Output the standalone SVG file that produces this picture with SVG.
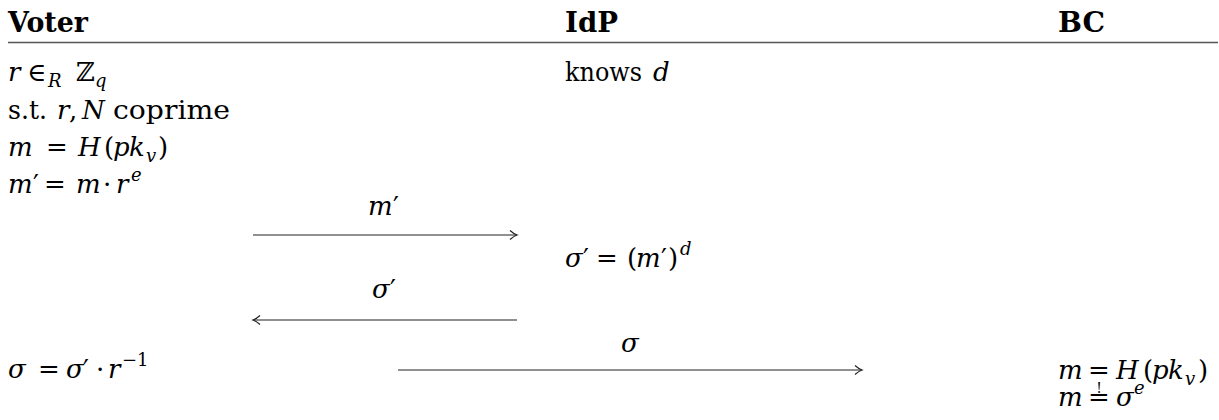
<svg xmlns="http://www.w3.org/2000/svg" width="1219" height="420" viewBox="0 0 1219 420" font-family="DejaVu Serif, Liberation Serif, serif">
<style>
text{font-family:"DejaVu Serif","Liberation Serif",serif}
.t{font-size:26px;fill:#000}
.i{font-style:italic}
.b{font-weight:bold;font-size:27px}
.s{font-size:18px}
.x{font-size:14px}
.arr{stroke:#222;stroke-width:1.2;fill:none}
.rule{stroke:#555;stroke-width:1.4}
</style>
<defs>
<marker id="head" markerUnits="userSpaceOnUse" viewBox="-9 -6 10 12" refX="0" refY="0" markerWidth="10" markerHeight="12" orient="auto-start-reverse" overflow="visible">
<path d="M-7,-4.5 Q-3,-1 0,0 Q-3,1 -7,4.5" fill="none" stroke="#222" stroke-width="1.2"/>
</marker>
</defs>
<rect width="1219" height="420" fill="#fff"/>
<g id="header">
<text class="t b" x="8" y="32" textLength="80" lengthAdjust="spacingAndGlyphs">Voter</text>
<text class="t b" x="565" y="32" textLength="53" lengthAdjust="spacingAndGlyphs">IdP</text>
<text class="t b" x="1058" y="32" textLength="47" lengthAdjust="spacingAndGlyphs">BC</text>
<line class="rule" x1="8" y1="42.5" x2="1218" y2="42.5"/>
</g>
<g id="voter">
<text class="t" y="81"><tspan class="i" x="8">r</tspan><tspan x="27">∈</tspan><tspan class="i s" x="48" y="87">R</tspan><tspan x="76" y="81">ℤ</tspan><tspan class="i s" x="95" y="87">q</tspan></text>
<text class="t" y="119"><tspan x="8" textLength="39" lengthAdjust="spacingAndGlyphs">s.t.</tspan><tspan class="i" x="57">r</tspan><tspan x="69">,</tspan><tspan class="i" x="82">N</tspan><tspan x="113" textLength="117" lengthAdjust="spacingAndGlyphs">coprime</tspan></text>
<text class="t" y="156"><tspan class="i" x="8">m</tspan><tspan x="46">=</tspan><tspan class="i" x="78">H</tspan><tspan x="104">(</tspan><tspan class="i" x="113">p</tspan><tspan class="i" x="129">k</tspan><tspan class="i s" x="146" y="162">v</tspan><tspan x="158" y="156">)</tspan></text>
<text class="t" y="193"><tspan class="i" x="8">m</tspan><tspan x="33">′</tspan><tspan x="44">=</tspan><tspan class="i" x="76">m</tspan><tspan x="103">·</tspan><tspan class="i" x="116">r</tspan><tspan class="i s" x="131" y="181">e</tspan></text>
<text class="t" y="378"><tspan class="i" x="8">σ</tspan><tspan x="38">=</tspan><tspan class="i" x="66">σ</tspan><tspan x="83">′</tspan><tspan x="96">·</tspan><tspan class="i" x="108">r</tspan><tspan class="s" x="122" y="366">−1</tspan></text>
</g>
<g id="idp">
<text class="t" y="81"><tspan x="565" textLength="77" lengthAdjust="spacingAndGlyphs">knows</tspan><tspan class="i" x="653">d</tspan></text>
<text class="t" y="267"><tspan class="i" x="565">σ</tspan><tspan x="583">′</tspan><tspan x="596">=</tspan><tspan x="627">(</tspan><tspan class="i" x="636">m</tspan><tspan x="661">′</tspan><tspan x="668">)</tspan><tspan class="i s" x="680" y="255">d</tspan></text>
</g>
<g id="bc">
<text class="t" y="379"><tspan class="i" x="1058">m</tspan><tspan x="1088">=</tspan><tspan class="i" x="1116">H</tspan><tspan x="1143">(</tspan><tspan class="i" x="1152">p</tspan><tspan class="i" x="1168">k</tspan><tspan class="i s" x="1185" y="385">v</tspan><tspan x="1198" y="379">)</tspan></text>
<text class="t" y="406"><tspan class="i" x="1058">m</tspan><tspan x="1088">=</tspan><tspan class="i" x="1116">σ</tspan><tspan class="i s" x="1134" y="394">e</tspan></text>
<text class="t x" x="1099" y="393" text-anchor="middle">!</text>
</g>
<g id="connectors">
<line class="arr" x1="253" y1="235" x2="517" y2="235" marker-end="url(#head)"/>
<text class="t" y="215"><tspan class="i" x="368">m</tspan><tspan x="393">′</tspan></text>
<line class="arr" x1="253" y1="320" x2="517" y2="320" marker-start="url(#head)"/>
<text class="t" y="298"><tspan class="i" x="372">σ</tspan><tspan x="390">′</tspan></text>
<line class="arr" x1="398" y1="370" x2="862" y2="370" marker-end="url(#head)"/>
<text class="t i" x="621" y="352">σ</text>
</g>
</svg>
